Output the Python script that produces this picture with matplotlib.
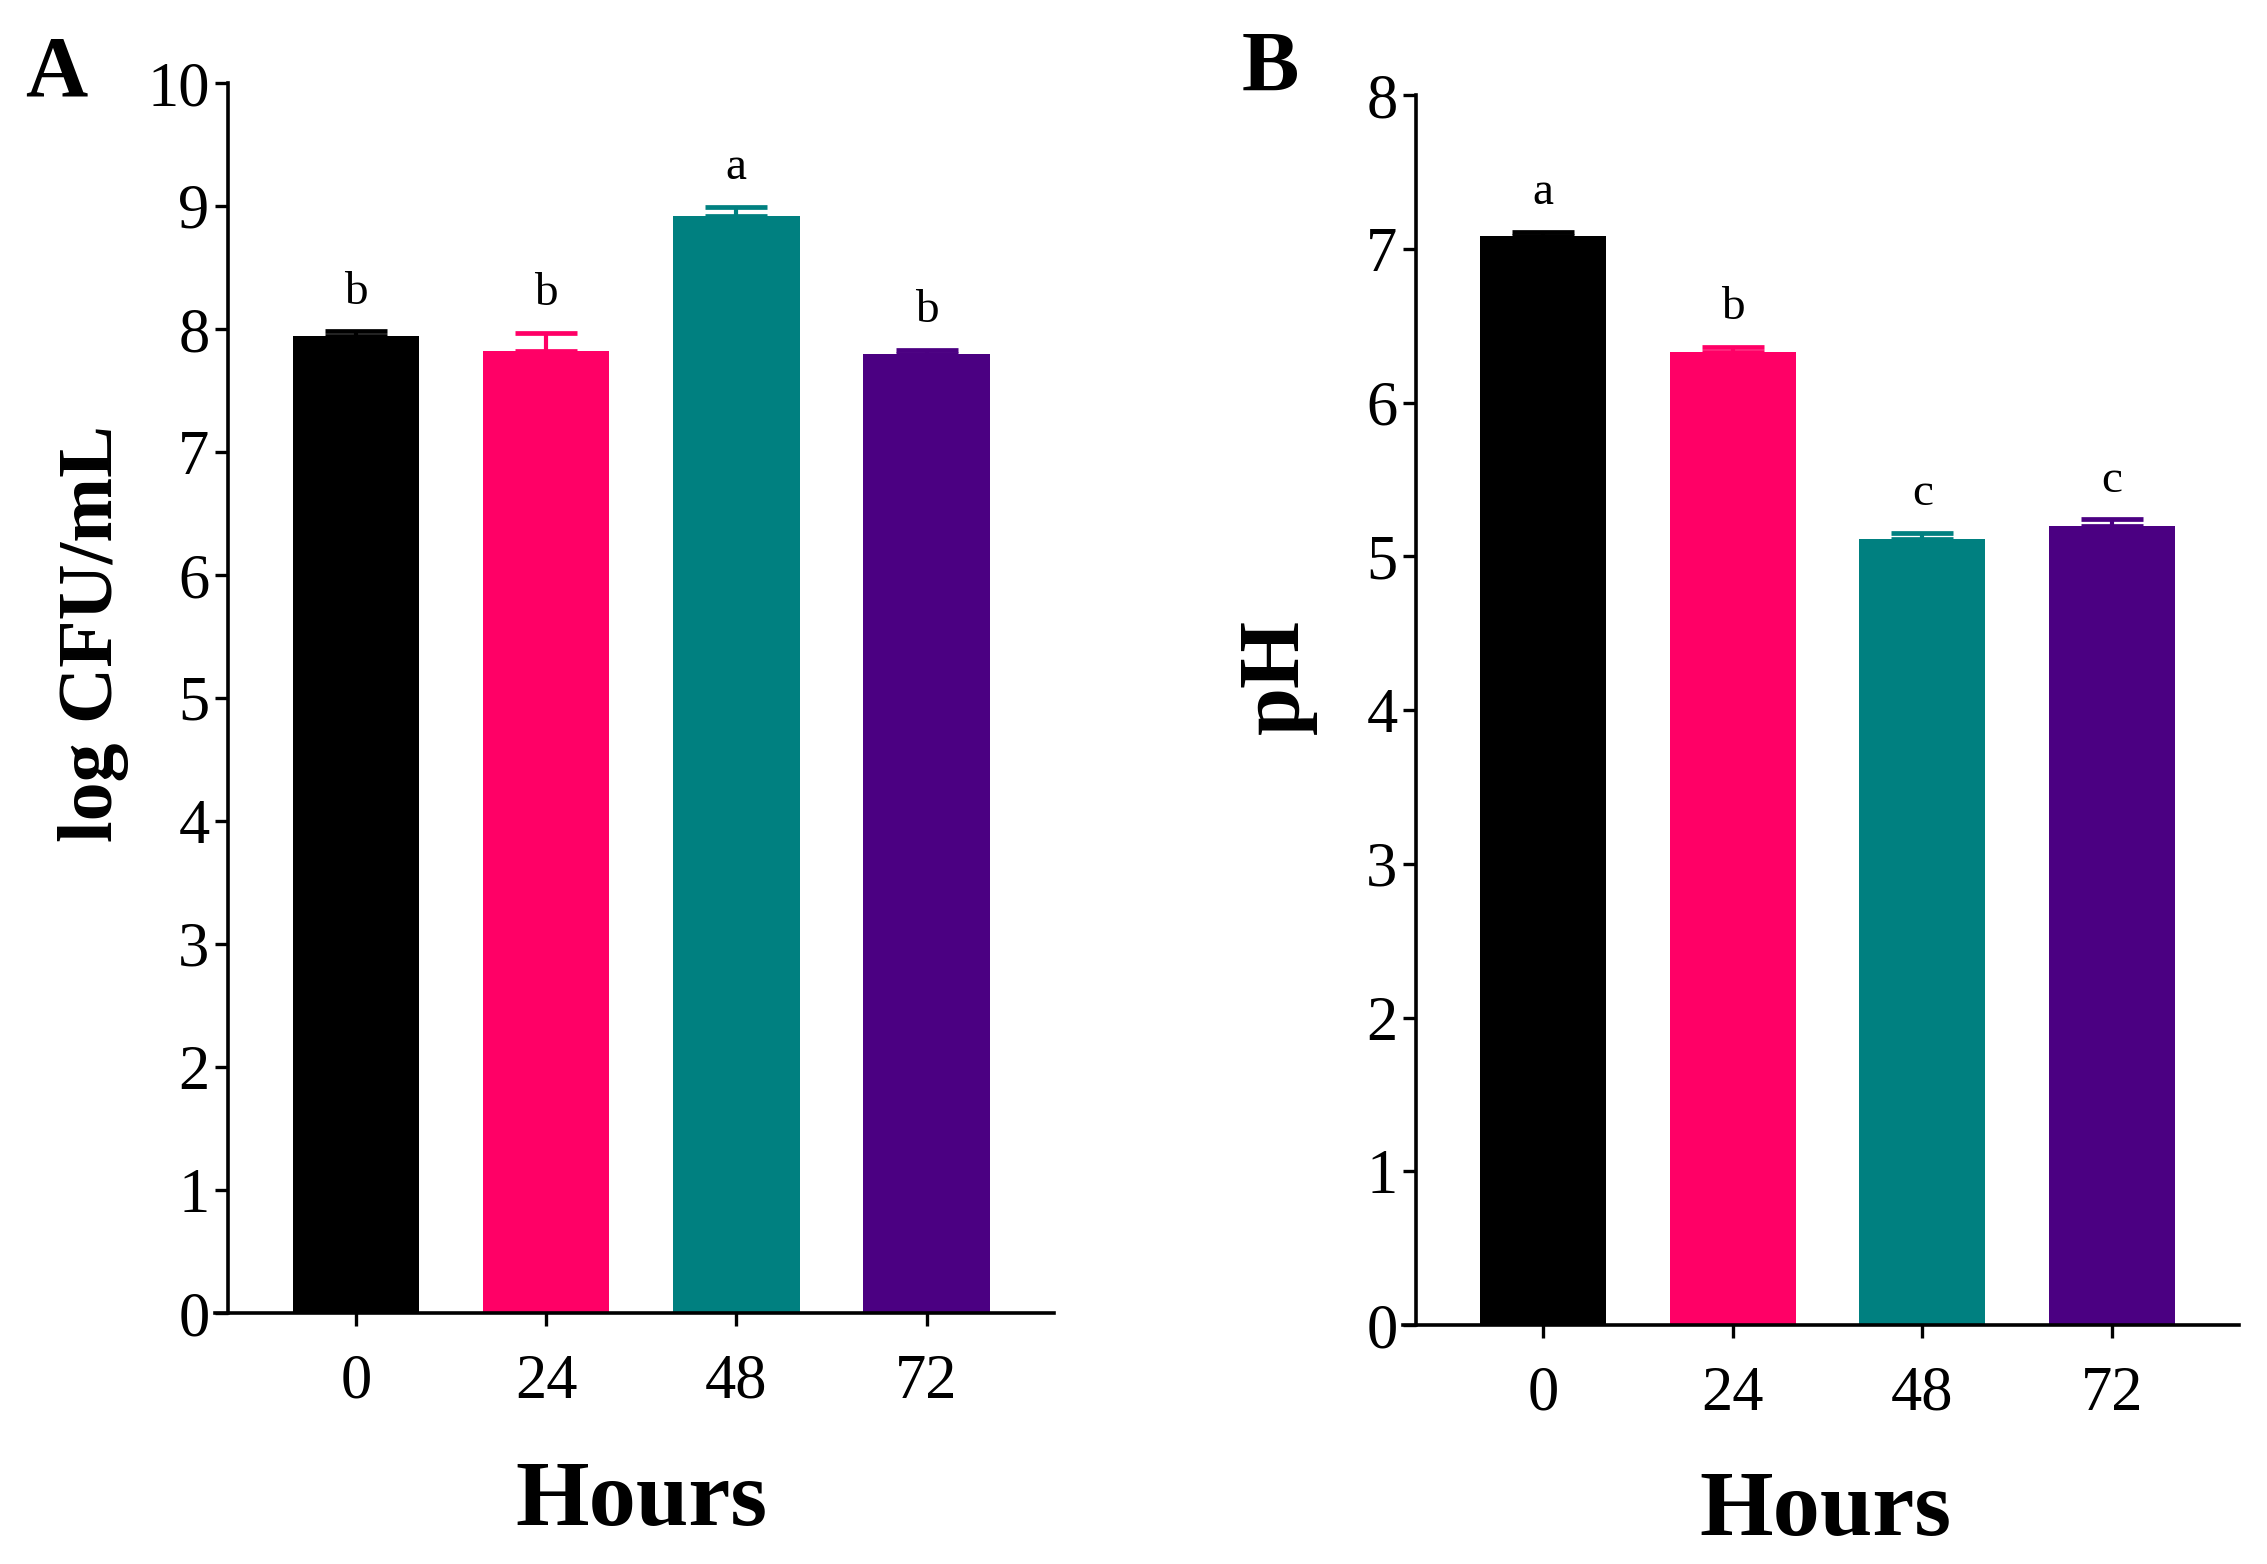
import numpy as np
import matplotlib
matplotlib.use("Agg")
import matplotlib.pyplot as plt

plt.rcParams['font.family'] = ['Liberation Serif', 'DejaVu Serif']

# dữ liệu
hours = ["0", "24", "48", "72"]
colors = ["#000000", "#FF0066", "#008080", "#4B0082"]

cfu_mean = [7.94, 7.82, 8.92, 7.80]
cfu_err = [0.04, 0.15, 0.07, 0.03]
cfu_letters = ["b", "b", "a", "b"]

ph_mean = [7.08, 6.33, 5.11, 5.20]
ph_err = [0.03, 0.03, 0.04, 0.04]
ph_letters = ["a", "b", "c", "c"]

W, H = 2267, 1564
fig = plt.figure(figsize=(W / 100, H / 100), dpi=100)

# vị trí các trục (pixel -> tỉ lệ); trục x bắt đầu hơi trước trục y
ax1 = fig.add_axes([215 / W, 1 - 1313 / H, (1054 - 215) / W, (1313 - 83) / H])
ax2 = fig.add_axes([1403 / W, 1 - 1325 / H, (2239 - 1403) / W, (1325 - 95) / H])


def draw_panel(ax, means, errs, letters, ymax):
    x = np.arange(len(means))
    ax.bar(x, means, width=0.665, color=colors, zorder=2)
    for i in range(len(means)):
        ax.errorbar(x[i], means[i], yerr=[[0], [errs[i]]], fmt='none',
                    ecolor=colors[i], elinewidth=3, capsize=22, capthick=3.4,
                    zorder=1)
        ax.annotate(letters[i], (x[i], means[i] + errs[i]), xytext=(0, 20),
                    textcoords='offset points', ha='center', va='baseline',
                    fontsize=34)
    ax.set_xlim(-0.74, 3.67)
    ax.set_ylim(0, ymax)
    ax.spines['left'].set_position(('data', -0.67))
    ax.spines['top'].set_visible(False)
    ax.spines['right'].set_visible(False)
    for s in ['left', 'bottom']:
        ax.spines[s].set_linewidth(2.6)
    ax.set_xticks(x)
    ax.set_xticklabels(hours)
    ax.set_yticks(np.arange(0, ymax + 1))
    ax.tick_params(axis='both', labelsize=45, length=9.5, width=2.4)
    ax.tick_params(axis='x', pad=20)
    ax.tick_params(axis='y', pad=4)


draw_panel(ax1, cfu_mean, cfu_err, cfu_letters, 10)
draw_panel(ax2, ph_mean, ph_err, ph_letters, 8)

# nhãn trục
fig.text(112 / W, 1 - 634 / H, "log CFU/mL", rotation=90, rotation_mode='anchor',
         ha='center', va='baseline', fontsize=56, fontweight='bold')
fig.text(1298 / W, 1 - 676 / H, "pH", rotation=90, rotation_mode='anchor',
         ha='center', va='baseline', fontsize=62, fontweight='bold')
fig.text(641 / W, 1 - 1525 / H, "Hours", ha='center', va='baseline',
         fontsize=68, fontweight='bold')
fig.text(1825 / W, 1 - 1535 / H, "Hours", ha='center', va='baseline',
         fontsize=68, fontweight='bold')

# nhãn panel
fig.text(56 / W, 1 - 96 / H, "A", ha='center', va='baseline', fontsize=62, fontweight='bold')
fig.text(1270 / W, 1 - 91 / H, "B", ha='center', va='baseline', fontsize=62, fontweight='bold')

fig.savefig("out.png", dpi=100)
